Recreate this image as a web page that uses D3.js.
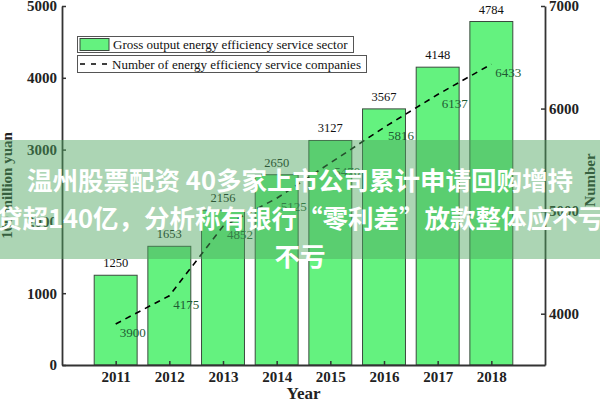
<!DOCTYPE html>
<html>
<head>
<meta charset="utf-8">
<script src="https://cdn.jsdelivr.net/npm/d3@7"></script>
<style>
  html, body { margin: 0; padding: 0; background: #fff; }
  svg { display: block; }
  .serif { font-family: "Liberation Serif", "Times New Roman", serif; }
</style>
</head>
<body>
<svg id="chart" width="600" height="400"></svg>
<script>
// ---- data ----
const years = [2011, 2012, 2013, 2014, 2015, 2016, 2017, 2018];
const grossOutput = [1250, 1653, 2156, 2650, 3127, 3567, 4148, 4784];
const companies = [3900, 4175, 4852, 5125, 5470, 5816, 6137, 6433];
const leftTicks = [0, 1000, 2000, 3000, 4000, 5000];
const rightTicks = [4000, 5000, 6000, 7000];
const legendLabels = ["Gross output energy efficiency service sector", "Number of energy efficiency service companies"];
const leftTitle = "100 million yuan";
const rightTitle = "Number";
const xTitle = "Year";
const overlayLines = ["温州股票配资 40多家上市公司累计申请回购增持", "贷超140亿，分析称有银行“零利差”放款整体应不亏", "不亏"];

// ---- layout ----
const svg = d3.select("#chart");
const L = 62, R = 545, T = 6, B = 365;
const serif = '"Liberation Serif", "Times New Roman", serif';

const x = d3.scaleLinear().domain([2010, 2019]).range([L, R]);
const yL = d3.scaleLinear().domain([0, 5000]).range([B, T]);
const yR = d3.scaleLinear().domain([3500, 7000]).range([B, T]);
const step = x(2011) - x(2010);
const barW = step * 0.8;

// bars
svg.append("g").selectAll("rect").data(years).join("rect")
  .attr("x", (d) => x(d) - barW / 2)
  .attr("y", (d, i) => yL(grossOutput[i]))
  .attr("width", barW)
  .attr("height", (d, i) => B - yL(grossOutput[i]))
  .attr("fill", "#64f27f")
  .attr("stroke", "#3b4a3e")
  .attr("stroke-width", 1);

// bar labels
svg.append("g").selectAll("text").data(years).join("text")
  .attr("x", (d) => x(d))
  .attr("y", (d, i) => yL(grossOutput[i]) - 8)
  .attr("text-anchor", "middle")
  .attr("font-family", serif)
  .attr("font-size", 12.5)
  .attr("fill", "#111")
  .text((d, i) => grossOutput[i]);

// dashed line
const line = d3.line().x((d) => x(d[0])).y((d) => yR(d[1]));
svg.append("path")
  .datum(years.map((y, i) => [y, companies[i]]))
  .attr("d", line)
  .attr("fill", "none")
  .attr("stroke", "#000")
  .attr("stroke-width", 1.6)
  .attr("stroke-dasharray", "6,5");

// line labels
svg.append("g").selectAll("text").data(years).join("text")
  .attr("x", (d) => x(d) + 17)
  .attr("y", (d, i) => yR(companies[i]) + 8.5)
  .attr("dy", "0.35em")
  .attr("text-anchor", "middle")
  .attr("font-family", serif)
  .attr("font-size", 13)
  .attr("fill", "#1f5a33")
  .text((d, i) => companies[i]);

// axes
function styleAxis(g) {
  g.selectAll("path.domain").attr("stroke", "#333").attr("stroke-width", 1.8);
  g.selectAll(".tick line").attr("stroke", "#333").attr("stroke-width", 1.5);
  g.selectAll(".tick text").attr("font-family", serif).attr("font-size", 15)
    .attr("font-weight", "bold").attr("fill", "#222");
}
svg.append("g").attr("transform", `translate(0,${B})`)
  .call(d3.axisBottom(x).tickValues(years).tickFormat(d3.format("d"))
    .tickSizeInner(-4).tickSizeOuter(0).tickPadding(6))
  .call(styleAxis);
svg.append("g").attr("transform", `translate(${L},0)`)
  .call(d3.axisLeft(yL).tickValues(leftTicks).tickFormat(d3.format("d"))
    .tickSizeInner(-4).tickSizeOuter(0).tickPadding(5))
  .call(styleAxis);
svg.append("g").attr("transform", `translate(${R},0)`)
  .call(d3.axisRight(yR).tickValues(rightTicks).tickFormat(d3.format("d"))
    .tickSizeInner(-4).tickSizeOuter(0).tickPadding(4))
  .call(styleAxis);
// ensure domain lines span full height without outer ticks
svg.selectAll("g .tick text").attr("font-family", serif);

// axis titles
svg.append("text")
  .attr("transform", `translate(12,${(T + B) / 2}) rotate(-90)`)
  .attr("text-anchor", "middle")
  .attr("font-family", serif).attr("font-size", 15).attr("font-weight", "bold").attr("fill", "#222")
  .text(leftTitle);
svg.append("text")
  .attr("transform", `translate(595,180) rotate(-90)`)
  .attr("text-anchor", "middle")
  .attr("font-family", serif).attr("font-size", 15).attr("font-weight", "bold").attr("fill", "#222")
  .text(rightTitle);
svg.append("text")
  .attr("x", (L + R) / 2).attr("y", 399)
  .attr("text-anchor", "middle")
  .attr("font-family", serif).attr("font-size", 17).attr("font-weight", "bold").attr("fill", "#222")
  .text(xTitle);

// legend
const lg = svg.append("g");
lg.append("rect").attr("x", 77.5).attr("y", 36.5).attr("width", 276).attr("height", 16)
  .attr("fill", "#fff").attr("stroke", "#555").attr("stroke-width", 1);
lg.append("rect").attr("x", 80).attr("y", 38.5).attr("width", 29).attr("height", 12)
  .attr("fill", "#64f27f").attr("stroke", "#3b4a3e").attr("stroke-width", 1);
lg.append("text").attr("x", 113).attr("y", 49).attr("font-family", serif).attr("font-size", 13)
  .attr("fill", "#111").text(legendLabels[0]);
lg.append("rect").attr("x", 77.5).attr("y", 55.5).attr("width", 289).attr("height", 17)
  .attr("fill", "#fff").attr("stroke", "#555").attr("stroke-width", 1);
lg.append("line").attr("x1", 80).attr("x2", 109).attr("y1", 64).attr("y2", 64)
  .attr("stroke", "#000").attr("stroke-width", 1.5).attr("stroke-dasharray", "5,6");
lg.append("text").attr("x", 112).attr("y", 68.5).attr("font-family", serif).attr("font-size", 13)
  .attr("fill", "#111").text(legendLabels[1]);

// overlay band with text
svg.append("rect").attr("x", 0).attr("y", 140).attr("width", 600).attr("height", 119)
  .attr("fill", "rgb(78,165,95)").attr("fill-opacity", 0.47);
const lineY = [181, 219, 257];
svg.append("g").selectAll("text").data(overlayLines).join("text")
  .attr("x", 300)
  .attr("y", (d, i) => lineY[i])
  .attr("dy", "0.35em")
  .attr("text-anchor", "middle")
  .attr("font-family", '"Noto Sans CJK SC", "Noto Sans", sans-serif')
  .attr("font-weight", "bold")
  .attr("font-size", 25.5)
  .attr("fill", "#fff")
  .text((d) => d);
</script>
</body>
</html>
